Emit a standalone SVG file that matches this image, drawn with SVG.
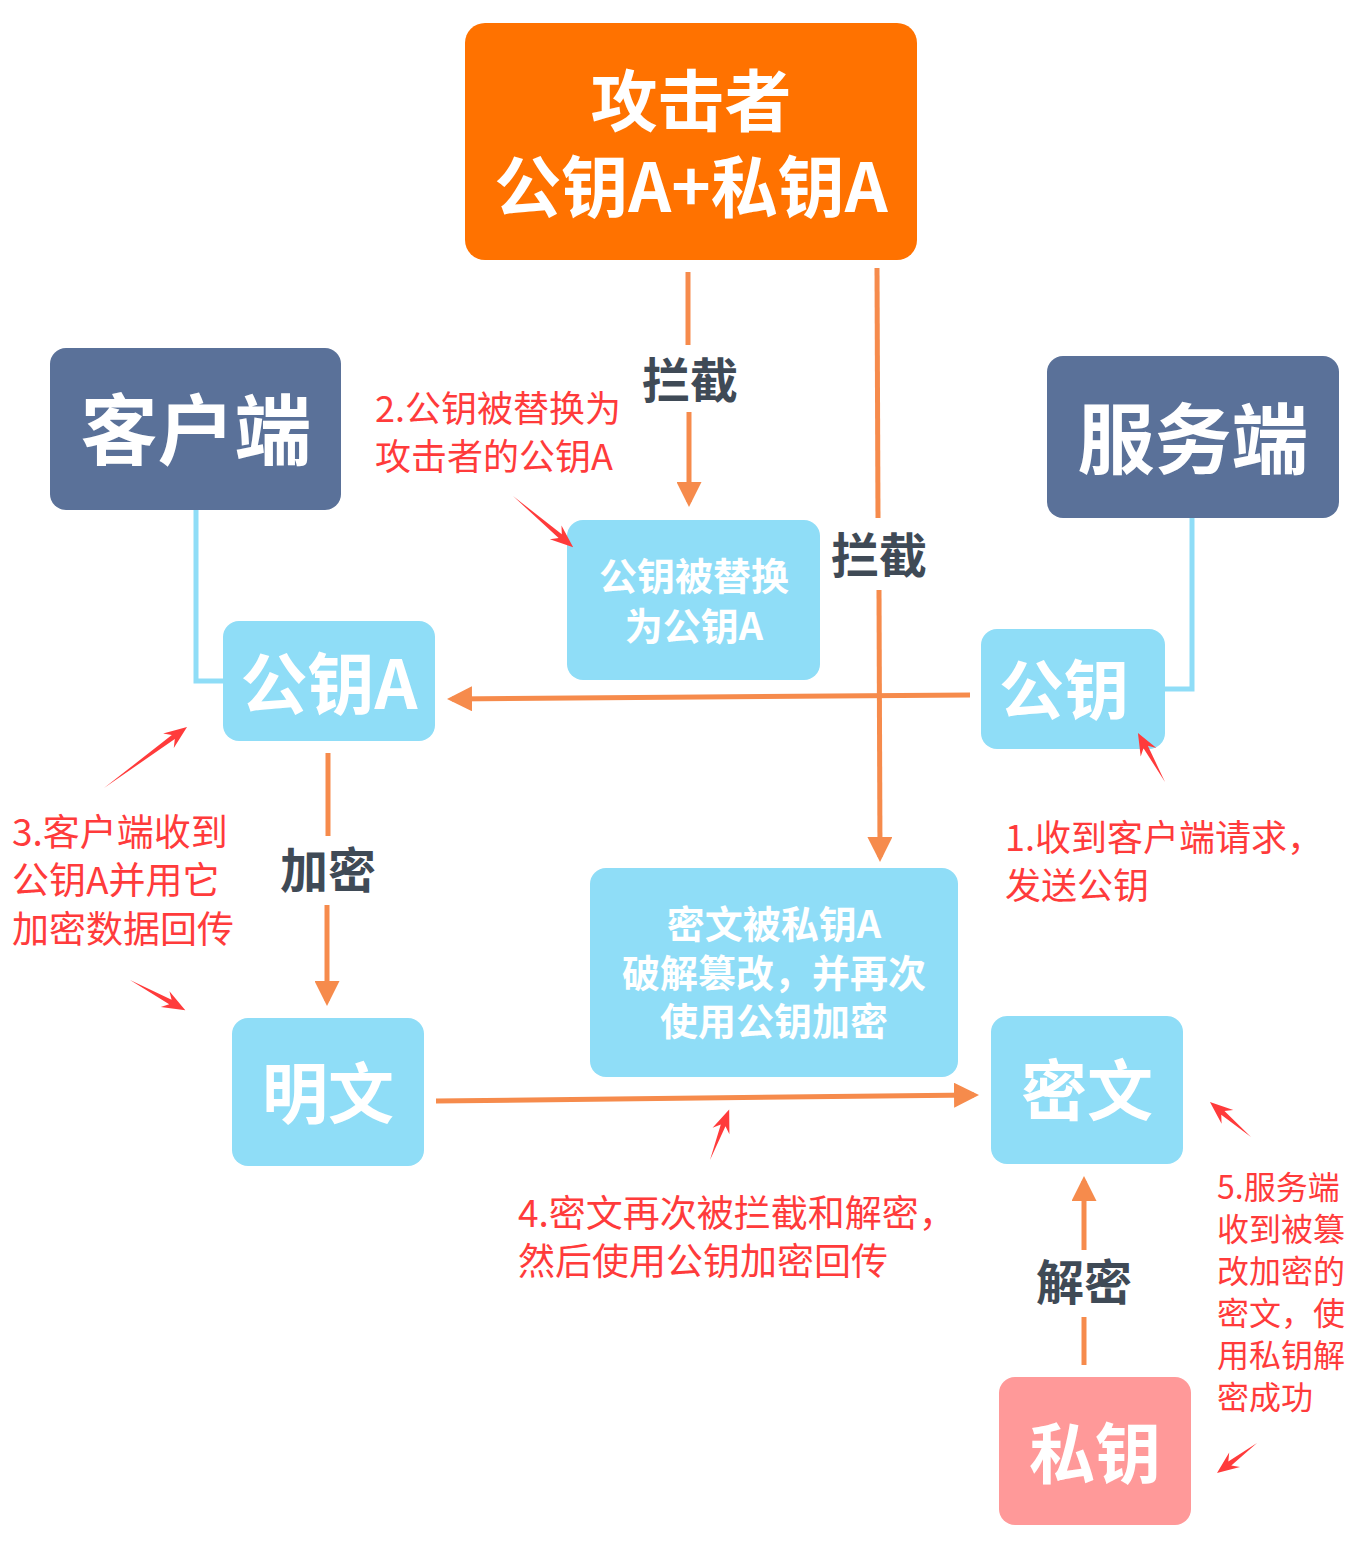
<svg xmlns="http://www.w3.org/2000/svg" width="1372" height="1568" viewBox="0 0 1372 1568">
<defs>
<style>
.t{font-family:"Noto Sans CJK SC","Noto Sans",sans-serif;}
.nodeT{font-family:"Noto Sans CJK SC","Noto Sans",sans-serif;font-weight:bold;fill:#ffffff;text-anchor:middle;dominant-baseline:central;}
.lbl{font-family:"Noto Sans CJK SC","Noto Sans",sans-serif;font-weight:bold;fill:#3F4A56;text-anchor:middle;dominant-baseline:central;font-size:48px;}
.note{font-family:"Noto Sans CJK SC","Noto Sans",sans-serif;fill:#FF3B3B;}
.dark{fill:#5A7199;}
.light{fill:#8FDDF7;}
.edge{stroke:#F68B4C;stroke-width:5;fill:none;}
.link{stroke:#8FDDF7;stroke-width:5;fill:none;}
.red{fill:#FF3B3B;}
</style>
<marker id="ah" viewBox="0 0 10 10" refX="8" refY="5" markerWidth="5" markerHeight="5" orient="auto" markerUnits="strokeWidth">
<path d="M0,0 L10,5 L0,10 Z" fill="#F68B4C"/>
</marker>
</defs>
<rect width="1372" height="1568" fill="#ffffff"/>

<g id="connectors">
<polyline class="link" points="196,510 196,681 225,681"/>
<polyline class="link" points="1192,518 1192,689 1163,689"/>
<line class="edge" x1="688" y1="272" x2="688" y2="345"/>
<line class="edge" x1="689" y1="412" x2="689" y2="502" marker-end="url(#ah)"/>
<line class="edge" x1="877" y1="268" x2="878" y2="518"/>
<line class="edge" x1="879" y1="590" x2="880" y2="857" marker-end="url(#ah)"/>
<line class="edge" x1="970" y1="695" x2="452" y2="699" marker-end="url(#ah)"/>
<line class="edge" x1="328" y1="753" x2="328" y2="836"/>
<line class="edge" x1="327" y1="905" x2="327" y2="1001" marker-end="url(#ah)"/>
<line class="edge" x1="436" y1="1101" x2="974" y2="1095" marker-end="url(#ah)"/>
<line class="edge" x1="1084" y1="1365" x2="1084" y2="1317"/>
<line class="edge" x1="1084" y1="1250" x2="1084" y2="1181" marker-end="url(#ah)"/>
<text class="lbl" x="690" y="377">拦截</text>
<text class="lbl" x="879" y="552">拦截</text>
<text class="lbl" x="328" y="867">加密</text>
<text class="lbl" x="1084" y="1279">解密</text>
</g>

<g id="attacker">
<rect x="465" y="23" width="452" height="237" rx="20" fill="#FF7200"/>
<text class="nodeT" x="691" y="96" font-size="67">攻击者</text>
<text class="nodeT" x="691" y="182" font-size="67">公钥A+私钥A</text>
</g>
<g id="client">
<rect class="dark" x="50" y="348" width="291" height="162" rx="16"/>
<text class="nodeT" x="196" y="425" font-size="77">客户端</text>
</g>
<g id="server">
<rect class="dark" x="1047" y="356" width="292" height="162" rx="16"/>
<text class="nodeT" x="1193" y="434" font-size="77">服务端</text>
</g>
<g id="replaced">
<rect class="light" x="567" y="520" width="253" height="160" rx="16"/>
<text class="nodeT" x="694" y="573" font-size="38">公钥被替换</text>
<text class="nodeT" x="694" y="623" font-size="38">为公钥A</text>
</g>
<g id="pubkeyA">
<rect class="light" x="223" y="621" width="212" height="120" rx="16"/>
<text class="nodeT" x="329" y="679" font-size="67">公钥A</text>
</g>
<g id="pubkey">
<rect class="light" x="981" y="629" width="184" height="120" rx="16"/>
<text class="nodeT" x="1064" y="686" font-size="65">公钥</text>
</g>
<g id="cracked">
<rect class="light" x="590" y="868" width="368" height="209" rx="16"/>
<text class="nodeT" x="774" y="921" font-size="38">密文被私钥A</text>
<text class="nodeT" x="774" y="970" font-size="38">破解篡改，并再次</text>
<text class="nodeT" x="774" y="1018" font-size="38">使用公钥加密</text>
</g>
<g id="plaintext">
<rect class="light" x="232" y="1018" width="192" height="148" rx="16"/>
<text class="nodeT" x="328" y="1089" font-size="66">明文</text>
</g>
<g id="ciphertext">
<rect class="light" x="991" y="1016" width="192" height="148" rx="16"/>
<text class="nodeT" x="1087" y="1086" font-size="66">密文</text>
</g>
<g id="privatekey">
<rect x="999" y="1377" width="192" height="148" rx="16" fill="#FF9999"/>
<text class="nodeT" x="1095" y="1449" font-size="66">私钥</text>
</g>

<g id="notes">
<g class="red">
<path transform="translate(513,496) rotate(40.4)" d="M0,0 L62,-2.5 L56,-9 L79,0 L56,9 L62,2.5 Z"/>
<path transform="translate(104,788) rotate(-36.3)" d="M0,0 L86,-2.5 L80,-9 L103,0 L80,9 L86,2.5 Z"/>
<path transform="translate(130,980) rotate(28.6)" d="M0,0 L46,-2.5 L40,-9 L63,0 L40,9 L46,2.5 Z"/>
<path transform="translate(1165,782) rotate(-118.9)" d="M0,0 L40,-2.5 L34,-9 L56,0 L34,9 L40,2.5 Z"/>
<path transform="translate(710,1160) rotate(-69.2)" d="M0,0 L37,-2.5 L31,-9 L54,0 L31,9 L37,2.5 Z"/>
<path transform="translate(1251,1137) rotate(-139.5)" d="M0,0 L37,-2.5 L31,-9 L54,0 L31,9 L37,2.5 Z"/>
<path transform="translate(1257,1443) rotate(143.1)" d="M0,0 L34,-2.5 L28,-9 L50,0 L28,9 L34,2.5 Z"/>
</g>
<text class="note" font-size="36"><tspan x="375" y="422">2.公钥被替换为</tspan><tspan x="375" y="470">攻击者的公钥A</tspan></text>
<text class="note" font-size="37"><tspan x="12" y="846">3.客户端收到</tspan><tspan x="12" y="894">公钥A并用它</tspan><tspan x="12" y="943">加密数据回传</tspan></text>
<text class="note" font-size="36"><tspan x="1005" y="851">1.收到客户端请求，</tspan><tspan x="1005" y="899">发送公钥</tspan></text>
<text class="note" font-size="37"><tspan x="518" y="1227">4.密文再次被拦截和解密，</tspan><tspan x="518" y="1275">然后使用公钥加密回传</tspan></text>
<text class="note" font-size="32"><tspan x="1217" y="1199">5.服务端</tspan><tspan x="1217" y="1241">收到被篡</tspan><tspan x="1217" y="1283">改加密的</tspan><tspan x="1217" y="1325">密文，使</tspan><tspan x="1217" y="1367">用私钥解</tspan><tspan x="1217" y="1409">密成功</tspan></text>
</g>
</svg>
